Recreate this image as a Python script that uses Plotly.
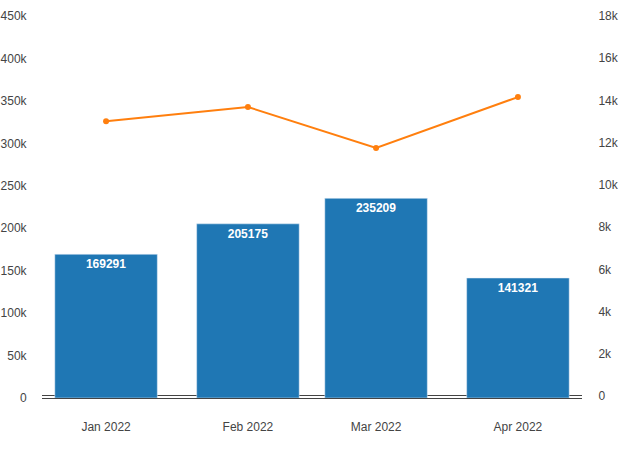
import plotly.graph_objects as go

months = ["2022-01-01", "2022-02-01", "2022-03-01", "2022-04-01"]
bar_values = [169291, 205175, 235209, 141321]
line_values = [13020, 13690, 11750, 14160]

fig = go.Figure()
fig.add_trace(go.Bar(
    x=months, y=bar_values, text=[str(v) for v in bar_values],
    textposition="inside", insidetextanchor="end",
    textfont=dict(color="white", size=12, family="Liberation Sans, Arial", weight="bold"),
    marker=dict(color="#1f77b4", line=dict(color="#E5ECF6", width=0.5)),
    showlegend=False,
))
fig.add_trace(go.Scatter(
    x=months, y=line_values, yaxis="y2", mode="lines+markers",
    line=dict(color="#ff7f0e", width=2), marker=dict(color="#ff7f0e", size=6),
    showlegend=False,
))

fig.update_layout(
    width=619, height=454,
    margin=dict(l=42, r=37, t=16, b=56),
    paper_bgcolor="white", plot_bgcolor="white",
    font=dict(family="Liberation Sans, Arial", size=12, color="#444"),
    xaxis=dict(
        type="date", range=["2021-12-18", "2022-04-15"],
        tickvals=months, tickformat="%b %Y", automargin=False,
        showgrid=False, zeroline=False, showline=False,
        ticks="outside", ticklen=18, tickcolor="rgba(0,0,0,0)",
    ),
    yaxis=dict(
        range=[0, 450000], tickvals=[0, 50000, 100000, 150000, 200000, 250000, 300000, 350000, 400000, 450000],
        tickformat="~s", showgrid=False, zeroline=True, zerolinecolor="#444", zerolinewidth=1,
        ticks="outside", ticklen=12, tickcolor="rgba(0,0,0,0)", automargin=False,
    ),
    yaxis2=dict(
        overlaying="y", side="right", range=[-95, 18000],
        tickvals=[0, 2000, 4000, 6000, 8000, 10000, 12000, 14000, 16000, 18000],
        tickformat="~s", showgrid=False, zeroline=True, zerolinecolor="#444", zerolinewidth=1,
        ticks="outside", ticklen=13, tickcolor="rgba(0,0,0,0)", automargin=False,
    ),
    bargap=0.2,
)

fig.write_html(
    "out.html",
    config={"displayModeBar": False},
    post_script="document.body.style.margin='0';document.body.style.overflow='hidden';",
)
